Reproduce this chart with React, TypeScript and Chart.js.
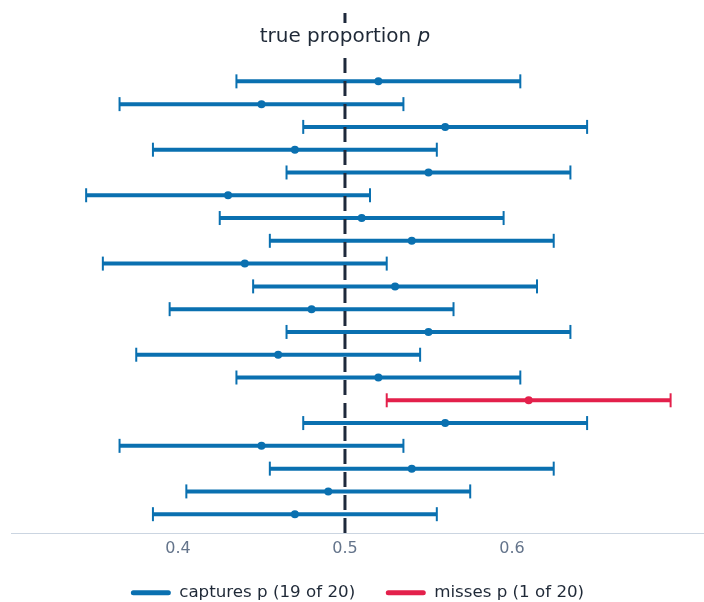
import React, { useEffect, useRef } from 'react';
import { Chart, registerables } from 'chart.js';

Chart.register(...registerables);

// ---- data ----
const TRUE_P = 0.5;
const rows = [1, 2, 3, 4, 5, 6, 7, 8, 9, 10, 11, 12, 13, 14, 15, 16, 17, 18, 19, 20];
const estimates = [0.52, 0.45, 0.56, 0.47, 0.55, 0.43, 0.51, 0.54, 0.44, 0.53, 0.48, 0.55, 0.46, 0.52, 0.61, 0.56, 0.45, 0.54, 0.49, 0.47];
const lowers = [0.435, 0.365, 0.475, 0.385, 0.465, 0.345, 0.425, 0.455, 0.355, 0.445, 0.395, 0.465, 0.375, 0.435, 0.525, 0.475, 0.365, 0.455, 0.405, 0.385];
const uppers = [0.605, 0.535, 0.645, 0.555, 0.635, 0.515, 0.595, 0.625, 0.525, 0.615, 0.565, 0.635, 0.545, 0.605, 0.695, 0.645, 0.535, 0.625, 0.575, 0.555];
const xTicks = [0.4, 0.5, 0.6];
const X_MIN = 0.3;
const X_MAX = 0.715;
const Y_MIN = -2;
const Y_MAX = 20.83;
const legendLabels = ['captures p (19 of 20)', 'misses p (1 of 20)'];
const annotationText = 'true proportion ';
const annotationSymbol = 'p';

// ---- styles ----
const FONT = "'DejaVu Sans', sans-serif";
const BLUE = '#0a70b0';
const RED = '#e3204b';
const DARK = '#1e293b';
const TICK = '#64748b';
const AXIS = '#cbd5e1';
const TEXT = '#1f2937';

const misses = (i: number) => lowers[i] > TRUE_P || uppers[i] < TRUE_P;
const colorFor = (i: number) => (misses(i) ? RED : BLUE);

const refLinePlugin = {
  id: 'refLine',
  afterDatasetsDraw(chart: any) {
    const { ctx, chartArea, scales } = chart;
    const x = scales.x.getPixelForValue(TRUE_P);
    ctx.save();
    ctx.strokeStyle = DARK;
    ctx.lineWidth = 3;
    ctx.setLineDash([15, 8]);
    ctx.beginPath();
    ctx.moveTo(x, chartArea.bottom);
    ctx.lineTo(x, chartArea.top);
    ctx.stroke();
    ctx.setLineDash([]);

    const size = 20;
    ctx.font = `${size}px ${FONT}`;
    const w1 = ctx.measureText(annotationText).width;
    ctx.font = `italic ${size}px ${FONT}`;
    const w2 = ctx.measureText(annotationSymbol).width;
    const total = w1 + w2;
    const cy = chartArea.top + 24;
    ctx.fillStyle = '#ffffff';
    ctx.fillRect(x - total / 2 - 4, cy - 14, total + 8, 29);
    ctx.fillStyle = TEXT;
    ctx.textBaseline = 'middle';
    ctx.textAlign = 'left';
    ctx.font = `${size}px ${FONT}`;
    ctx.fillText(annotationText, x - total / 2, cy);
    ctx.font = `italic ${size}px ${FONT}`;
    ctx.fillText(annotationSymbol, x - total / 2 + w1, cy);
    ctx.restore();
  },
};

export default function App() {
  const canvasRef = useRef<HTMLCanvasElement | null>(null);

  useEffect(() => {
    if (!canvasRef.current) return;
    Chart.defaults.font.family = FONT;

    const intervalSets = rows.map((r, i) => ({
      data: [
        { x: lowers[i], y: r },
        { x: uppers[i], y: r },
      ],
      showLine: true,
      borderColor: colorFor(i),
      borderWidth: 4,
      borderCapStyle: 'butt',
      pointStyle: 'line',
      rotation: 90,
      pointRadius: 7,
      pointBorderWidth: 2,
      pointBorderColor: colorFor(i),
      pointBackgroundColor: colorFor(i),
    }));

    const pointSet = {
      data: rows.map((r, i) => ({ x: estimates[i], y: r })),
      showLine: false,
      pointStyle: 'circle',
      pointRadius: 4,
      pointBorderWidth: 0,
      pointBackgroundColor: rows.map((_, i) => colorFor(i)),
      pointBorderColor: rows.map((_, i) => colorFor(i)),
    };

    const chart = new Chart(canvasRef.current, {
      type: 'scatter',
      data: { datasets: [pointSet, ...intervalSets] as any },
      options: {
        animation: false,
        responsive: false,
        maintainAspectRatio: false,
        devicePixelRatio: 1,
        events: [],
        layout: { autoPadding: false, padding: { top: 13, left: 11, right: 0, bottom: -9 } },
        scales: {
          x: {
            type: 'linear',
            min: X_MIN,
            max: X_MAX,
            afterBuildTicks: (s: any) => {
              s.ticks = xTicks.map((v) => ({ value: v }));
            },
            grid: { display: false, drawTicks: false },
            border: { display: true, color: AXIS, width: 1 },
            ticks: {
              color: TICK,
              font: { size: 16, family: FONT },
              padding: 6,
              callback: (v: any) => Number(v).toFixed(1),
            },
          },
          y: {
            type: 'linear',
            display: false,
            reverse: true,
            min: Y_MIN,
            max: Y_MAX,
          },
        },
        plugins: {
          tooltip: { enabled: false },
          legend: {
            display: true,
            position: 'bottom',
            onClick: () => {},
            labels: {
              boxWidth: 40,
              boxHeight: 5,
              useBorderRadius: true,
              borderRadius: 2.5,
              padding: 20,
              color: TEXT,
              font: { size: 16.7, family: FONT },
              generateLabels: () =>
                legendLabels.map((t, k) => ({
                  text: k === 0 ? t + '  ' : t,
                  fillStyle: k === 0 ? BLUE : RED,
                  strokeStyle: k === 0 ? BLUE : RED,
                  lineWidth: 0,
                  hidden: false,
                  borderRadius: 2.5,
                  fontColor: TEXT,
                })),
            },
          },
        },
      } as any,
      plugins: [refLinePlugin],
    });
    return () => chart.destroy();
  }, []);

  return (
    <div style={{ position: 'absolute', left: 0, top: 0, width: 704, height: 602, background: '#fff' }}>
      <canvas ref={canvasRef} width={704} height={602} style={{ display: 'block', width: 704, height: 602 }} />
    </div>
  );
}
